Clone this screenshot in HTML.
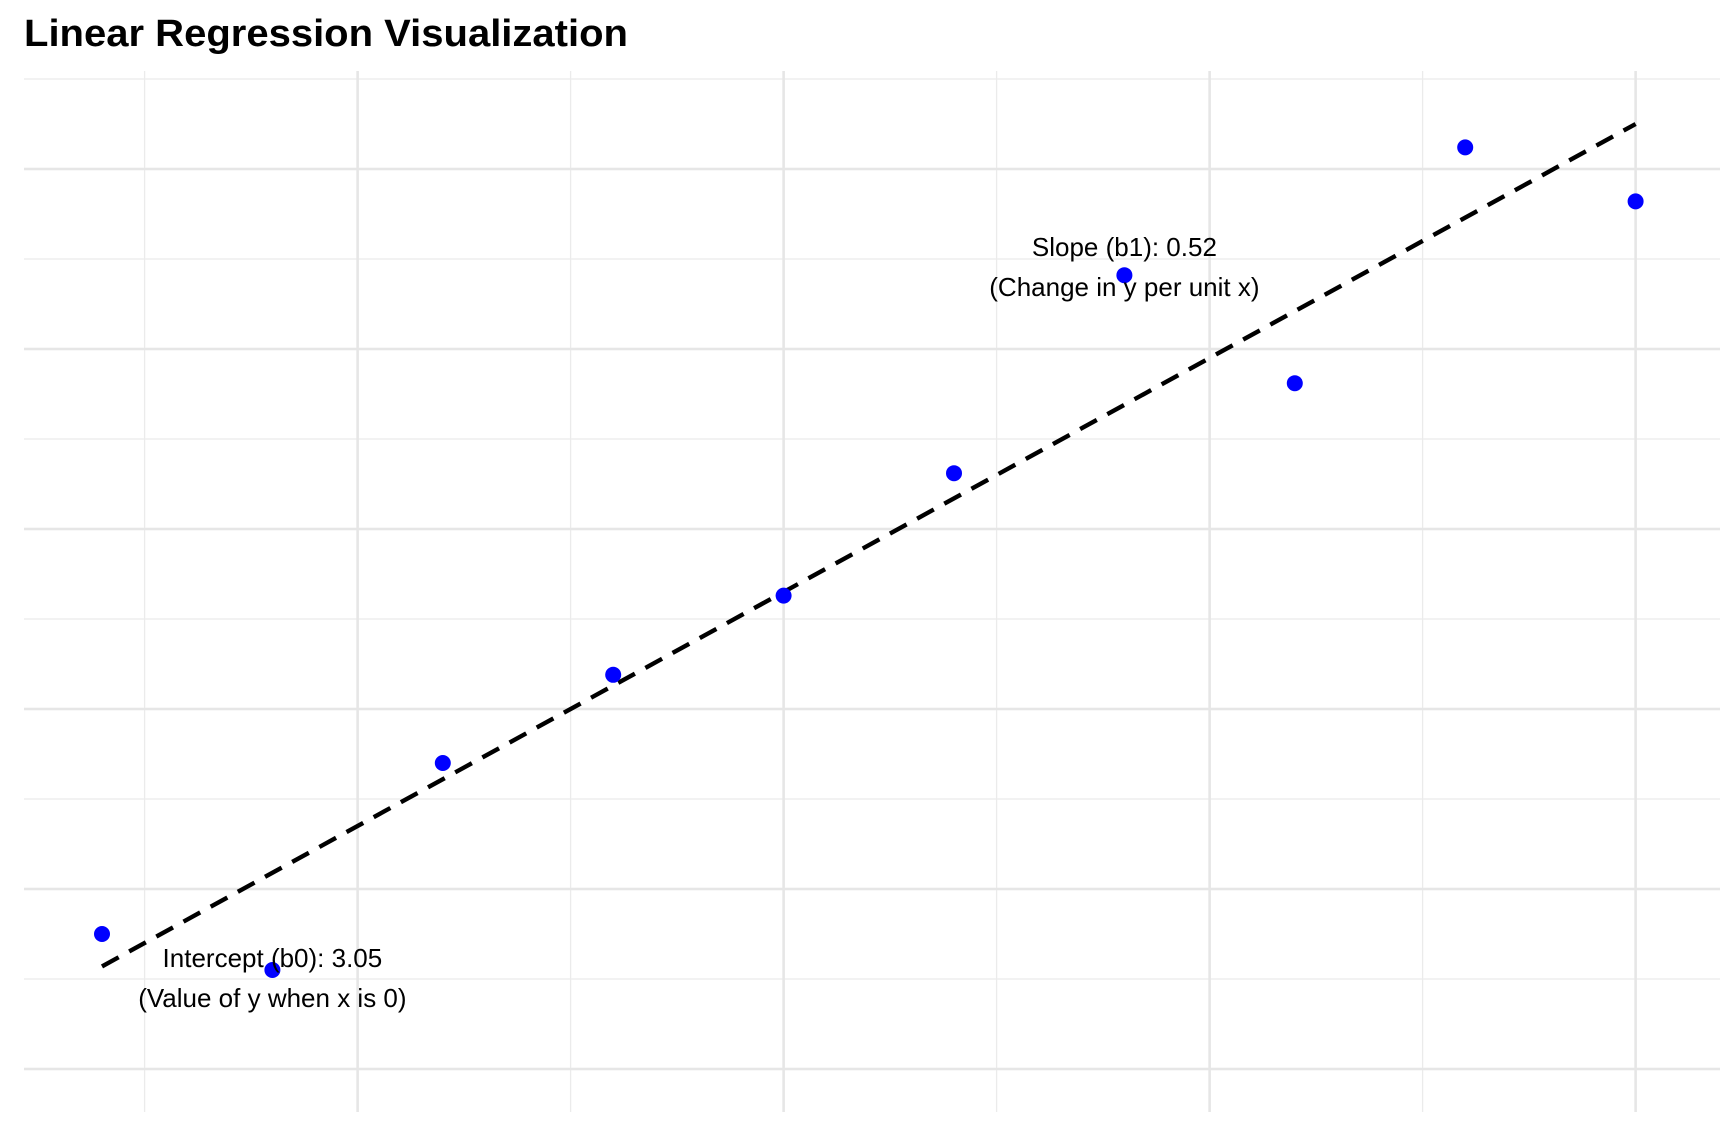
<!DOCTYPE html>
<html><head><meta charset="utf-8"><style>
body{margin:0;background:#fff;}
svg{display:block;font-family:"Liberation Sans",Arial,sans-serif;}
</style></head><body>
<svg id="chart" width="1729" height="1132" viewBox="0 0 1729 1132" xmlns="http://www.w3.org/2000/svg">
<text x="24" y="46" font-size="38" font-weight="bold" fill="#000" textLength="604" lengthAdjust="spacingAndGlyphs">Linear Regression Visualization</text>
<g id="grid"></g>
<g id="line"></g>
<g id="pts"></g>
<g id="ann"></g>
</svg>
<script>
const xValues=[1,2,3,4,5,6,7,8,9,10];
const yValues=[3.75,3.55,4.70,5.19,5.63,6.31,7.41,6.81,8.12,7.82];
const intercept=3.05;
const slope=0.52;
const xGridMajor=[2.5,5,7.5,10];
const xGridMinor=[1.25,3.75,6.25,8.75];
const yGridMajor=[3,4,5,6,7,8];
const yGridMinor=[3.5,4.5,5.5,6.5,7.5,8.5];

const NS="http://www.w3.org/2000/svg";
function sx(x){return 102+(x-1)*170.4;}
function sy(y){return 889-(y-4)*180;}
function mk(tag,attrs,parent){const e=document.createElementNS(NS,tag);for(const k in attrs)e.setAttribute(k,attrs[k]);parent.appendChild(e);return e;}
const grid=document.getElementById('grid');
const X0=24,X1=1720,Y0=71,Y1=1112;
yGridMinor.forEach(v=>{const l=mk('line',{x1:X0,x2:X1,y1:sy(v),y2:sy(v),stroke:'#ebebeb','stroke-width':1.3},grid);

});
xGridMinor.forEach(v=>{const l=mk('line',{x1:sx(v),x2:sx(v),y1:Y0,y2:Y1,stroke:'#ebebeb','stroke-width':1.3},grid);

});
yGridMajor.forEach(v=>{const l=mk('line',{x1:X0,x2:X1,y1:sy(v),y2:sy(v),stroke:'#e6e6e6','stroke-width':2.6},grid);

});
xGridMajor.forEach(v=>{const l=mk('line',{x1:sx(v),x2:sx(v),y1:Y0,y2:Y1,stroke:'#e6e6e6','stroke-width':2.6},grid);

});

const lg=document.getElementById('line');
const xa=xValues[0],xb=xValues[xValues.length-1];
const rl=mk('line',{x1:sx(xa),y1:sy(intercept+slope*xa),x2:sx(xb),y2:sy(intercept+slope*xb),stroke:'#000','stroke-width':4.4,'stroke-dasharray':'19 12'},lg);



const pg=document.getElementById('pts');
xValues.forEach((x,i)=>{const c=mk('circle',{cx:sx(x),cy:sy(yValues[i]),r:8,fill:'#0000ff'},pg);

});

const ag=document.getElementById('ann');
function txt(s,x,y,name){const t=mk('text',{x:x,y:y,'text-anchor':'middle','font-size':26,fill:'#000'},ag);t.textContent=s;

}
txt('Slope (b1): 0.52',sx(7),256,'slope-label');
txt('(Change in y per unit x)',sx(7),296,'slope-description');
txt('Intercept (b0): 3.05',sx(2),967,'intercept-label');
txt('(Value of y when x is 0)',sx(2),1007,'intercept-description');
</script>
</body></html>
